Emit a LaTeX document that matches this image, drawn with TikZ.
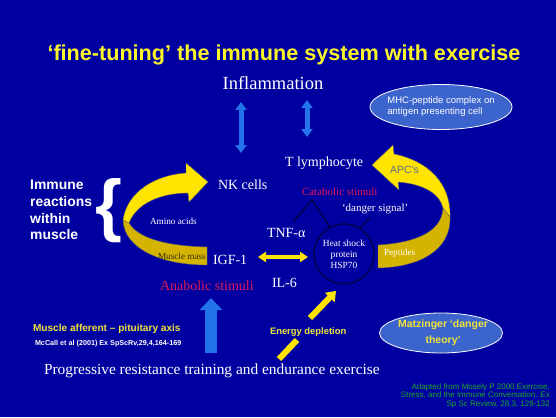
\documentclass[tikz,border=0pt]{standalone}
\usepackage{fontspec}
\setmainfont{Liberation Serif}
\newfontfamily\arial{Liberation Sans}
\usetikzlibrary{arrows.meta,shapes.geometric}
\definecolor{bg}{RGB}{0,0,160}
\definecolor{ttl}{RGB}{250,245,40}
\definecolor{ylw}{RGB}{255,228,0}
\definecolor{gold}{RGB}{212,180,0}
\definecolor{ylwtxt}{RGB}{240,228,60}
\definecolor{abl}{RGB}{35,115,235}
\definecolor{redtxt}{RGB}{225,25,85}
\definecolor{grn}{RGB}{25,170,40}
\definecolor{elfill}{RGB}{60,100,205}
\definecolor{dline}{RGB}{0,0,70}
\definecolor{apctxt}{RGB}{95,105,150}
\definecolor{mustxt}{RGB}{50,45,0}
\begin{document}
\begin{tikzpicture}[x=1pt,y=-1pt,
  lbl/.style={inner sep=0pt,outer sep=0pt,anchor=base west,text=white},
  serif14/.style={lbl,font=\fontsize{14}{16}\selectfont},
  serif11/.style={lbl,font=\fontsize{11}{13}\selectfont},
  serif9/.style={lbl,font=\fontsize{9.2}{11}\selectfont},
  bluedbl/.style={draw=abl,line width=5pt,{Triangle[length=8pt,width=11pt]}-{Triangle[length=8pt,width=11pt]}},
  bigblue/.style={draw=abl,line width=12pt,-{Triangle[length=12pt,width=22pt]}},
  ydbl/.style={draw=ylw,line width=4pt,{Triangle[length=8pt,width=10pt]}-{Triangle[length=8pt,width=10pt]}},
  ysmall/.style={draw=ylw,line width=6pt,-{Triangle[length=9pt,width=13pt]}},
  ybar/.style={draw=ylw,line width=6pt},
  dlink/.style={draw=dline,line width=1.3pt},
  bandlight/.style={fill=ylw,draw=black!60,line width=0.4pt},
  banddark/.style={fill=gold,draw=black!60,line width=0.4pt},
  bubble/.style={ellipse,draw=white,line width=0.8pt,fill=elfill,inner sep=0pt}
]
\fill[bg] (0,0) rectangle (556,417);
\useasboundingbox (0,0) rectangle (556,417);

% title
\node[anchor=base,inner sep=0pt,text=ttl,font=\arial\bfseries\fontsize{21.6}{26}\selectfont] (title) at (284,61) {‘fine-tuning’ the immune system with exercise};

\node[anchor=base,inner sep=0pt,text=white,font=\fontsize{18.5}{21}\selectfont] (infl) at (273,90) {Inflammation};

% blue double arrows
\coordinate (ua1) at (241,153); \coordinate (ua2) at (241,102);
\draw[bluedbl] (ua1) -- (ua2);
\coordinate (ub1) at (307,137); \coordinate (ub2) at (307,100);
\draw[bluedbl] (ub1) -- (ub2);

% ellipses
\node[bubble,minimum width=142pt,minimum height=45pt] (mhc) at (441,107) {};
\node[inner sep=0pt,align=left,text=white,font=\arial\fontsize{9.5}{11}\selectfont] (mhct) at (mhc.center) {MHC-peptide complex on\\antigen presenting cell};
\node[bubble,minimum width=123pt,minimum height=40pt] (mat) at (441,333) {};
\node[inner sep=0pt,align=center,text=ylwtxt,font=\arial\bfseries\fontsize{10.5}{16}\selectfont] (matt) at (443,333) {Matzinger ‘danger\\theory’};

% left curved arrow
\path[bandlight] (208,182) -- (186,163) -- (186,173) .. controls (155,175) and (127,192) .. (123,220) -- (129,223) .. controls (136,204) and (160,193) .. (188,193) -- (189,202) -- cycle;
\path[banddark] (123,220) .. controls (124,248) and (160,265) .. (207,265) -- (207,247) .. controls (165,246) and (138,238) .. (129,223) -- cycle;

% right curved arrow
\path[bandlight] (372,165) -- (393,145) -- (394,154) .. controls (428,161) and (451,183) .. (450,217) -- (443,208) .. controls (440,194) and (424,184) .. (398,182) -- (399,190) -- cycle;
\path[banddark] (450,217) .. controls (451,250) and (420,267) .. (378,268) -- (378,245) .. controls (413,243) and (442,233) .. (443,208) -- cycle;

% immune text and brace
\node[inner sep=0pt,anchor=north west,align=left,text=white,font=\arial\bfseries\fontsize{13.9}{16.7}\selectfont] (imm) at (30,180) {Immune\\reactions\\within\\muscle};
\node[inner sep=0pt,anchor=base,text=white,draw=none,font=\arial\bfseries\fontsize{69}{69}\selectfont] (brace) at (109,228) {\{};

% labels
\node[serif14] (tl) at (285,166) {T lymphocyte};
\node[serif14] (nk) at (218,189) {NK cells};
\node[serif11,text=redtxt] (cat) at (302,195) {Catabolic stimuli};
\node[serif11] (dng) at (342,211) {‘danger signal’};
\node[serif14] (tnf) at (267,237) {TNF-α};
\node[serif14] (igf) at (213,264) {IGF-1};
\node[serif14] (il6) at (272,287) {IL-6};
\node[serif14,text=redtxt] (anab) at (160,290) {Anabolic stimuli};
\node[serif9] (amino) at (150,224) {Amino acids};
\node[serif9,text=mustxt] (mm) at (158,259) {Muscle mass};
\node[serif9] (pep) at (384,255) {Peptides};
\node[lbl,text=apctxt,font=\arial\fontsize{10.5}{12}\selectfont] (apc) at (390,173) {APC’s};

% heat shock protein
\node[circle,draw=dline,line width=1.3pt,minimum size=60pt,inner sep=0pt,align=center,text=white,font=\fontsize{9.4}{11}\selectfont] (hsp) at (344,254) {Heat shock\\protein\\HSP70};

% dark links
\coordinate (c1) at (293,222); \coordinate (c2) at (312,200); \coordinate (c3) at (330,227);
\draw[dlink] (c1) -- (c2) -- (c3);
\coordinate (d1) at (370,218); \coordinate (d2) at (359,229);
\draw[dlink] (d1) -- (d2);

% yellow double arrow
\coordinate (h1) at (258,257); \coordinate (h2) at (308,257);
\draw[ydbl] (h1) -- (h2);

% big blue arrow
\coordinate (bb1) at (211,353); \coordinate (bb2) at (211,298);
\draw[bigblue] (bb1) -- (bb2);

% small yellow arrows
\coordinate (e1) at (279,359); \coordinate (e2) at (297,340);
\draw[ybar] (e1) -- (e2);
\coordinate (f1) at (310,318); \coordinate (f2) at (336,291);
\draw[ysmall] (f1) -- (f2);

% bottom texts
\node[lbl,text=ylwtxt,font=\arial\bfseries\fontsize{10.1}{12}\selectfont] (maf) at (33,331) {Muscle afferent – pituitary axis};
\node[lbl,font=\arial\bfseries\fontsize{7.2}{9}\selectfont] (mcc) at (35,345) {McCall et al (2001) Ex SpScRv,29,4,164-169};
\node[lbl,text=ylwtxt,font=\arial\bfseries\fontsize{9.4}{11}\selectfont] (energy) at (270,334) {Energy depletion};
\node[lbl,font=\fontsize{15.4}{18}\selectfont] (prog) at (44,374) {Progressive resistance training and endurance exercise};
\node[inner sep=0pt,anchor=north east,align=right,text=grn,font=\arial\fontsize{8}{8.7}\selectfont] (src) at (550,383) {Adapted from Mosely P 2000 Exercise,\\Stress, and the Immune Conversation. Ex\\Sp Sc Review, 28,3, 128-132};
\end{tikzpicture}
\end{document}
